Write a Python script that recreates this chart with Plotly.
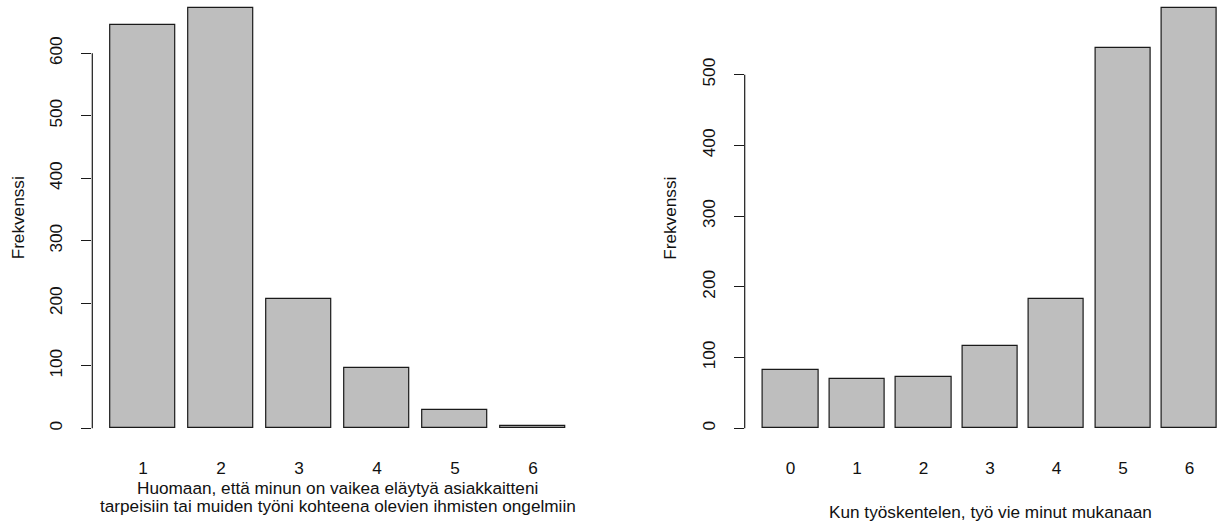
import plotly.graph_objects as go

# ---------------- data ----------------
left_categories = ["1", "2", "3", "4", "5", "6"]
left_values = [645, 672, 207, 97, 29, 4]
left_yticks = [0, 100, 200, 300, 400, 500, 600]
left_xtitle_lines = ["Huomaan, että minun on vaikea eläytyä asiakkaitteni",
                     "tarpeisiin tai muiden työni kohteena olevien ihmisten ongelmiin"]

right_categories = ["0", "1", "2", "3", "4", "5", "6"]
right_values = [83, 70, 73, 117, 183, 538, 594]
right_yticks = [0, 100, 200, 300, 400, 500]
right_xtitle = "Kun työskentelen, työ vie minut mukanaan"

ytitle = "Frekvenssi"

# ---------------- geometry (pixels) ----------------
W, H = 1219, 524
FONT = "Liberation Sans, Arial, sans-serif"
FS = 17.2
BAR_FILL = "#bebebe"
BAR_LINE = "#1a1a1a"


def fx(px):
    return px / W


def fy(py):
    return 1 - py / H


ZERO_PX = 428.3      # pixel row of value 0
BOTTOM_PX = 445.1    # bottom of plot region


def x_setup(n, axis_px, unit_px):
    pad = 0.04 * (1.2 * n - 0.2)
    c_lo = 0.2 - pad
    c_hi = 1.2 * n + pad
    full_right_px = axis_px + (c_hi - c_lo) * unit_px
    center_px = (axis_px + full_right_px) / 2
    right_px = full_right_px
    if right_px > W:
        c_hi = c_lo + (W - axis_px) / unit_px
        right_px = W
    idx = lambda c: (c - 0.7) / 1.2
    return [fx(axis_px), fx(right_px)], [idx(c_lo), idx(c_hi)], fx(center_px)


def y_range(ppu):
    return [-(BOTTOM_PX - ZERO_PX) / ppu, ZERO_PX / ppu]


L_AX = 92.3
R_AX = 744.7
l_dom, l_rng, l_center = x_setup(len(left_values), L_AX, 65.0)
r_dom, r_rng, r_center = x_setup(len(right_values), R_AX, 55.4)
l_ppu = (ZERO_PX - 53.3) / 600
r_ppu = (ZERO_PX - 74.7) / 500

fig = go.Figure()
fig.add_trace(go.Bar(x=left_categories, y=left_values, width=1 / 1.2,
                     marker=dict(color=BAR_FILL, line=dict(color=BAR_LINE, width=1.2)),
                     xaxis="x", yaxis="y", showlegend=False, hoverinfo="x+y"))
fig.add_trace(go.Bar(x=right_categories, y=right_values, width=1 / 1.2,
                     marker=dict(color=BAR_FILL, line=dict(color=BAR_LINE, width=1.2)),
                     xaxis="x2", yaxis="y2", showlegend=False, hoverinfo="x+y"))

xcommon = dict(type="category", showline=False, showgrid=False, zeroline=False,
               ticks="outside", ticklen=7, tickcolor="rgba(0,0,0,0)",
               tickfont=dict(family=FONT, size=FS, color="#111"), fixedrange=True)
ycommon = dict(showline=False, showgrid=False, zeroline=False,
               ticks="outside", ticklen=10, tickwidth=1.2, tickcolor=BAR_LINE,
               tickangle=-90, ticklabelstandoff=12,
               tickfont=dict(family=FONT, size=FS, color="#111"), fixedrange=True)

ydom = [fy(BOTTOM_PX), 1]
fig.update_layout(
    width=W, height=H,
    margin=dict(l=0, r=0, t=0, b=0),
    paper_bgcolor="white", plot_bgcolor="white",
    bargap=0,
    xaxis=dict(domain=l_dom, range=l_rng, anchor="y", **xcommon),
    yaxis=dict(domain=ydom, range=y_range(l_ppu), anchor="x",
               tickvals=left_yticks, ticktext=[str(v) for v in left_yticks], **ycommon),
    xaxis2=dict(domain=r_dom, range=r_rng, anchor="y2", **xcommon),
    yaxis2=dict(domain=ydom, range=y_range(r_ppu), anchor="x2",
                tickvals=right_yticks, ticktext=[str(v) for v in right_yticks], **ycommon),
)

# R-style y axis lines spanning first..last tick
fig.add_shape(type="line", xref="x domain", yref="y", x0=0, x1=0,
              y0=left_yticks[0], y1=left_yticks[-1], line=dict(color=BAR_LINE, width=1.2))
fig.add_shape(type="line", xref="x2 domain", yref="y2", x0=0, x1=0,
              y0=right_yticks[0], y1=right_yticks[-1], line=dict(color=BAR_LINE, width=1.2))

ann_font = dict(family=FONT, size=FS, color="#111")
center_y = fy((BOTTOM_PX - 8.4) / 2)
# y titles
for ax_px in (L_AX, R_AX):
    fig.add_annotation(text=ytitle, xref="paper", yref="paper",
                       x=fx(ax_px - 74.3), y=center_y, textangle=-90,
                       showarrow=False, xanchor="center", yanchor="middle", font=ann_font)
# x titles
for line, ypx in zip(left_xtitle_lines, (488.0, 506.0)):
    fig.add_annotation(text=line, xref="paper", yref="paper", x=l_center, y=fy(ypx),
                       showarrow=False, xanchor="center", yanchor="middle", font=ann_font)
fig.add_annotation(text=right_xtitle, xref="paper", yref="paper", x=r_center, y=fy(512),
                   showarrow=False, xanchor="center", yanchor="middle", font=ann_font)

fig.write_html("out.html")
